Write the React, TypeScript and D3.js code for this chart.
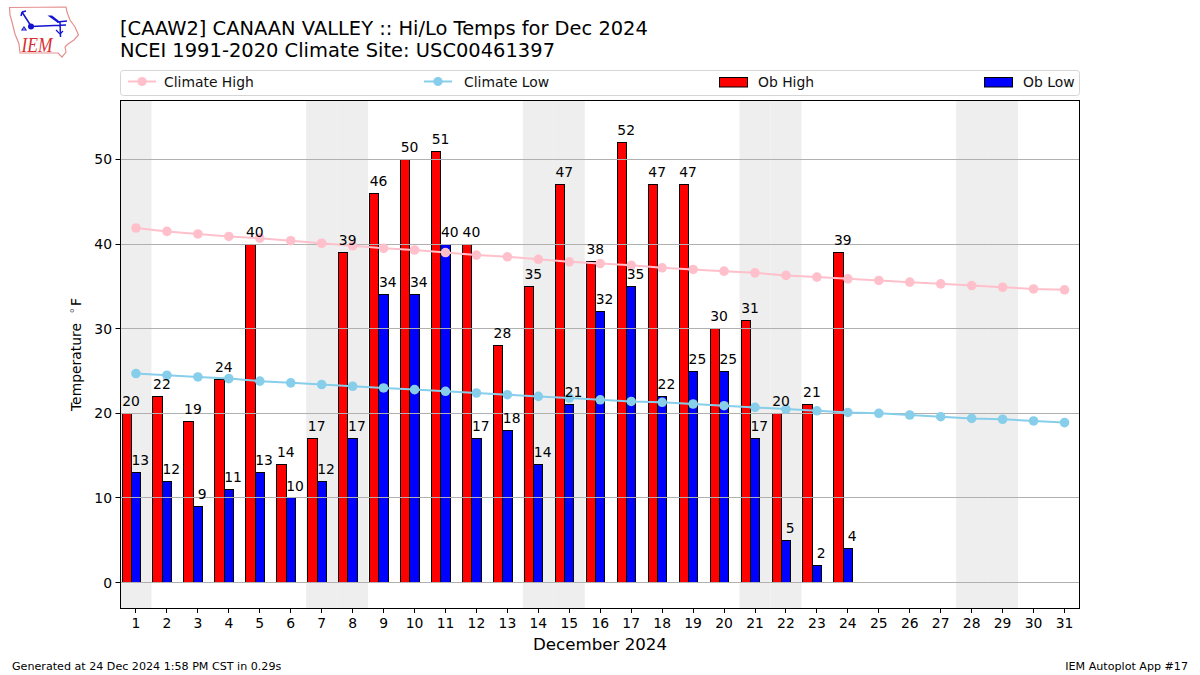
import React from "react";
import * as d3 from "d3";

const days = d3.range(1, 32);
const obHigh = [20,22,19,24,40,14,17,39,46,50,51,40,28,35,47,38,52,47,47,30,31,20,21,39];
const obLow = [13,12,9,11,13,10,12,17,34,34,40,17,18,14,21,32,35,22,25,25,17,5,2,4];
const climateHigh = [41.9,41.5,41.2,40.9,40.7,40.4,40.1,39.8,39.5,39.3,39.0,38.7,38.5,38.2,37.9,37.7,37.5,37.2,37.0,36.8,36.6,36.3,36.1,35.9,35.7,35.5,35.3,35.1,34.9,34.7,34.6];
const climateLow = [24.7,24.5,24.3,24.1,23.8,23.6,23.4,23.2,23.0,22.8,22.6,22.4,22.2,22.0,21.8,21.6,21.4,21.3,21.1,20.9,20.7,20.5,20.3,20.1,20.0,19.8,19.6,19.4,19.3,19.1,18.9];
const weekendDays = [1,7,8,14,15,21,22,28,29];
const yTicks = [0,10,20,30,40,50];

const L = 120.5, R = 1080, T = 100, B = 608;
const FONT = "'DejaVu Sans', sans-serif";
const snap = (v: number) => Math.floor(v) + 0.5;

export default function App() {
  const x = d3.scaleLinear().domain([0.5, 31.5]).range([L, R]);
  const y = d3.scaleLinear().domain([-3.01, 57.03]).range([B, T]);
  const barW = x(1.3) - x(1);
  const line = d3.line<number>().x((_, i) => x(days[i])).y((d) => y(d));
  const legendItems = [
    { label: "Climate High", kind: "line", color: "pink", x: 128, tx: 164 },
    { label: "Climate Low", kind: "line", color: "skyblue", x: 424, tx: 464 },
    { label: "Ob High", kind: "bar", color: "red", x: 719, tx: 758 },
    { label: "Ob Low", kind: "bar", color: "blue", x: 984, tx: 1023 },
  ];
  const bar = (v: number, left: number, color: string, key: number) => {
    const x0 = Math.floor(left), x1 = Math.floor(left + barW), y0 = Math.floor(y(v));
    return <rect key={key} x={x0 + 0.5} y={y0 + 0.5} width={x1 - x0} height={Math.floor(y(0)) - y0} fill={color} stroke="#000" strokeWidth={1} />;
  };
  return (
    <svg width={1200} height={675} viewBox="0 0 1200 675" style={{ position: "absolute", left: 0, top: 0, background: "#fff" }} fontFamily={FONT}>
      <defs>
        <clipPath id="plot"><rect x={L} y={T} width={R - L} height={B - T} /></clipPath>
      </defs>
      {/* logo */}
      <g fill="none">
        <path d="M9.5 7.5 L66 7 L67 12 L70 20 L75 27 L78.5 35 L74 40 L68 44 L65 47 L66 52 L62 57 L58 53 L20 53 L19 44 L15 34 L12 22 L10 15 Z" stroke="#e49090" strokeWidth={1.2} fill="#fff" />
        <path d="M31 26.5 L66 25 M60 22 L60.5 37 M22 12 L31 26 M22 12 L26 11 M22 12 L21 16 M57 22 L67 21" stroke="#1414d0" strokeWidth={1.5} />
        <circle cx={31} cy={26.5} r={3} fill="#1414d0" />
        <path d="M47.5 15.5 L52 15.5 L59 21 L58 23 Z" fill="#1414d0" />
        <path d="M56 30 L60 34 M60 34 L63 31 M24 27 L26 30 L22 30 Z" stroke="#1414d0" strokeWidth={1.2} />
        <text x={21.5} y={52} fontFamily="'Liberation Serif', serif" fontStyle="italic" fontSize={22} fill="#d83030" textLength={31} lengthAdjust="spacingAndGlyphs">IEM</text>
      </g>
      <text x={120} y={35} fontSize={19.44}>[CAAW2] CANAAN VALLEY :: Hi/Lo Temps for Dec 2024</text>
      <text x={120} y={57} fontSize={19.44} textLength={435} lengthAdjust="spacing">NCEI 1991-2020 Climate Site: USC00461397</text>
      {/* legend */}
      <rect x={120.5} y={70.5} width={959} height={25} rx={3} fill="#fff" stroke="#d5d5d5" />
      {legendItems.map((d) => (
        <g key={d.label}>
          {d.kind === "line" ? (
            <g>
              <line x1={d.x} x2={d.x + 28} y1={81.5} y2={81.5} stroke={d.color} strokeWidth={2} />
              <circle cx={d.x + 14} cy={81.5} r={4.6} fill={d.color} />
            </g>
          ) : (
            <rect x={d.x + 0.5} y={77.5} width={28} height={9.5} fill={d.color} stroke="#000" strokeWidth={1} />
          )}
          <text x={d.tx} y={86.5} fontSize={13.9} fill="#111">{d.label}</text>
        </g>
      ))}
      {/* plot */}
      <g clipPath="url(#plot)">
        {weekendDays.map((d) => (
          <rect key={d} x={x(d - 0.5)} y={T} width={x(1.5) - x(0.5)} height={B - T} fill="#eeeeee" />
        ))}
        {obHigh.map((v, i) => bar(v, x(days[i]) - barW * 1.5, "red", i))}
        {obLow.map((v, i) => bar(v, x(days[i]) - barW * 0.5, "blue", i))}
        {yTicks.map((t) => (
          <line key={t} x1={L} x2={R} y1={snap(y(t))} y2={snap(y(t))} stroke="#b0b0b0" strokeWidth={1} />
        ))}
        <path d={line(climateHigh) ?? ""} fill="none" stroke="pink" strokeWidth={2} />
        {climateHigh.map((v, i) => <circle key={i} cx={x(days[i])} cy={y(v)} r={4.8} fill="pink" />)}
        <path d={line(climateLow) ?? ""} fill="none" stroke="skyblue" strokeWidth={2} />
        {climateLow.map((v, i) => <circle key={i} cx={x(days[i])} cy={y(v)} r={4.8} fill="skyblue" />)}
      </g>
      {obHigh.map((v, i) => (
        <text key={i} x={x(days[i]) - barW + 4.3} y={y(v) - 7.4} textAnchor="middle" fontSize={13.9} fill="#000">{v}</text>
      ))}
      {obLow.map((v, i) => (
        <text key={i} x={x(days[i]) + 4.3} y={y(v) - 7.4} textAnchor="middle" fontSize={13.9} fill="#000">{v}</text>
      ))}
      <rect x={L} y={T + 0.5} width={R - L - 0.5} height={B - T} fill="none" stroke="#000" strokeWidth={1} />
      {/* axes */}
      {days.map((d) => (
        <g key={d}>
          <line x1={snap(x(d))} x2={snap(x(d))} y1={B} y2={B + 5} stroke="#000" />
          <text x={x(d)} y={B + 19.5} textAnchor="middle" fontSize={13.9}>{d}</text>
        </g>
      ))}
      {yTicks.map((t) => (
        <g key={t}>
          <line x1={L - 5} x2={L} y1={snap(y(t))} y2={snap(y(t))} stroke="#000" />
          <text x={L - 8.5} y={y(t) + 5} textAnchor="end" fontSize={13.9}>{t}</text>
        </g>
      ))}
      <text transform="translate(80.5,411) rotate(-90)" fontSize={13.9}>Temperature</text>
      <text transform="translate(78,313.5) rotate(-90)" fontSize={11} fill="#555">°</text>
      <text transform="translate(80.5,306) rotate(-90)" fontSize={13.9}>F</text>
      <text x={600} y={649.5} textAnchor="middle" fontSize={16.67}>December 2024</text>
      <text x={12} y={670} fontSize={11.11}>Generated at 24 Dec 2024 1:58 PM CST in 0.29s</text>
      <text x={1188} y={670} textAnchor="end" fontSize={11.11}>IEM Autoplot App #17</text>
    </svg>
  );
}
